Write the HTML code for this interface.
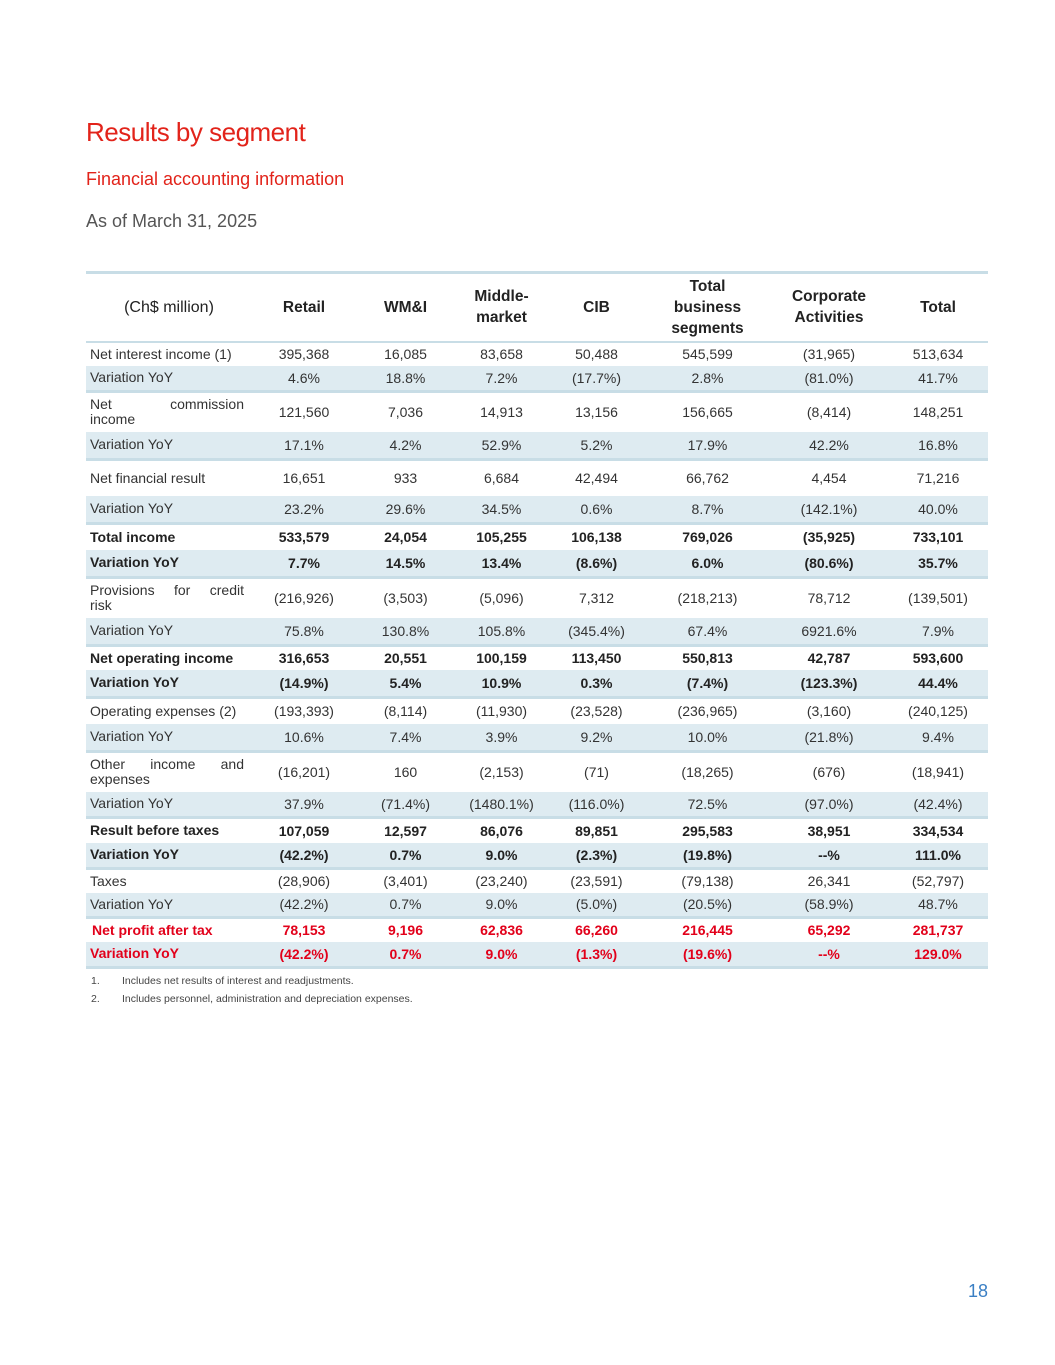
<!DOCTYPE html>
<html><head><meta charset="utf-8"><style>
body{margin:0;width:1055px;height:1365px;background:#fff;font-family:"Liberation Sans",sans-serif;color:#333;position:relative;overflow:hidden}
.t{position:absolute;left:86px;color:#e2231a}
table{position:absolute;left:86px;top:271px;width:902px;border-collapse:collapse;table-layout:fixed;font-size:14px}
td,th{text-align:center;padding:0;vertical-align:middle}
th{font-weight:bold;font-size:15.5px;line-height:21px;color:#222}
th.l{font-weight:normal;font-size:16px}
td.l{text-align:left;padding-left:4px;padding-right:8px;line-height:15px}
td.j div{width:154px}
td.j div.f{text-align:justify;text-align-last:justify}
thead tr{border-top:3px solid #c8dde6;border-bottom:2px solid #c8dde6}
tr.s{background:#deebf1;border-bottom:3px solid #c8dde6}
tr.b td{font-weight:bold;color:#222}
tr.r td{font-weight:bold;color:#e2001a}
.fn{position:absolute;left:91px;font-size:10.5px;color:#444}
.fn span{position:absolute;left:31px;white-space:nowrap}
</style></head><body>
<div class="t" style="top:117px;font-size:26px;letter-spacing:-0.5px">Results by segment</div>
<div class="t" style="top:169px;font-size:18px">Financial accounting information</div>
<div style="position:absolute;left:86px;top:211px;font-size:18px;color:#555">As of March 31, 2025</div>
<table>
<colgroup><col style="width:166px"><col style="width:104px"><col style="width:99px"><col style="width:93px"><col style="width:97px"><col style="width:125px"><col style="width:118px"><col style="width:100px"></colgroup>
<thead><tr style="height:69px"><th class="l">(Ch$ million)</th><th>Retail</th><th>WM&amp;I</th><th>Middle-<br>market</th><th>CIB</th><th>Total<br>business<br>segments</th><th>Corporate<br>Activities</th><th>Total</th></tr></thead>
<tbody>
<tr style="height:24px"><td class="l">Net interest income (1)</td><td>395,368</td><td>16,085</td><td>83,658</td><td>50,488</td><td>545,599</td><td>(31,965)</td><td>513,634</td></tr>
<tr class="s" style="height:26px"><td class="l">Variation YoY</td><td>4.6%</td><td>18.8%</td><td>7.2%</td><td>(17.7%)</td><td>2.8%</td><td>(81.0%)</td><td>41.7%</td></tr>
<tr style="height:40px"><td class="l j"><div class="f">Net commission</div><div>income</div></td><td>121,560</td><td>7,036</td><td>14,913</td><td>13,156</td><td>156,665</td><td>(8,414)</td><td>148,251</td></tr>
<tr class="s" style="height:28px"><td class="l">Variation YoY</td><td>17.1%</td><td>4.2%</td><td>52.9%</td><td>5.2%</td><td>17.9%</td><td>42.2%</td><td>16.8%</td></tr>
<tr style="height:36px"><td class="l">Net financial result</td><td>16,651</td><td>933</td><td>6,684</td><td>42,494</td><td>66,762</td><td>4,454</td><td>71,216</td></tr>
<tr class="s" style="height:28px"><td class="l">Variation YoY</td><td>23.2%</td><td>29.6%</td><td>34.5%</td><td>0.6%</td><td>8.7%</td><td>(142.1%)</td><td>40.0%</td></tr>
<tr class="b" style="height:26px"><td class="l">Total income</td><td>533,579</td><td>24,054</td><td>105,255</td><td>106,138</td><td>769,026</td><td>(35,925)</td><td>733,101</td></tr>
<tr class="s b" style="height:28px"><td class="l">Variation YoY</td><td>7.7%</td><td>14.5%</td><td>13.4%</td><td>(8.6%)</td><td>6.0%</td><td>(80.6%)</td><td>35.7%</td></tr>
<tr style="height:40px"><td class="l j"><div class="f">Provisions for credit</div><div>risk</div></td><td>(216,926)</td><td>(3,503)</td><td>(5,096)</td><td>7,312</td><td>(218,213)</td><td>78,712</td><td>(139,501)</td></tr>
<tr class="s" style="height:28px"><td class="l">Variation YoY</td><td>75.8%</td><td>130.8%</td><td>105.8%</td><td>(345.4%)</td><td>67.4%</td><td>6921.6%</td><td>7.9%</td></tr>
<tr class="b" style="height:24px"><td class="l">Net operating income</td><td>316,653</td><td>20,551</td><td>100,159</td><td>113,450</td><td>550,813</td><td>42,787</td><td>593,600</td></tr>
<tr class="s b" style="height:28px"><td class="l">Variation YoY</td><td>(14.9%)</td><td>5.4%</td><td>10.9%</td><td>0.3%</td><td>(7.4%)</td><td>(123.3%)</td><td>44.4%</td></tr>
<tr style="height:26px"><td class="l">Operating expenses (2)</td><td>(193,393)</td><td>(8,114)</td><td>(11,930)</td><td>(23,528)</td><td>(236,965)</td><td>(3,160)</td><td>(240,125)</td></tr>
<tr class="s" style="height:28px"><td class="l">Variation YoY</td><td>10.6%</td><td>7.4%</td><td>3.9%</td><td>9.2%</td><td>10.0%</td><td>(21.8%)</td><td>9.4%</td></tr>
<tr style="height:40px"><td class="l j"><div class="f">Other income and</div><div>expenses</div></td><td>(16,201)</td><td>160</td><td>(2,153)</td><td>(71)</td><td>(18,265)</td><td>(676)</td><td>(18,941)</td></tr>
<tr class="s" style="height:26px"><td class="l">Variation YoY</td><td>37.9%</td><td>(71.4%)</td><td>(1480.1%)</td><td>(116.0%)</td><td>72.5%</td><td>(97.0%)</td><td>(42.4%)</td></tr>
<tr class="b" style="height:25px"><td class="l">Result before taxes</td><td>107,059</td><td>12,597</td><td>86,076</td><td>89,851</td><td>295,583</td><td>38,951</td><td>334,534</td></tr>
<tr class="s b" style="height:26px"><td class="l">Variation YoY</td><td>(42.2%)</td><td>0.7%</td><td>9.0%</td><td>(2.3%)</td><td>(19.8%)</td><td>--%</td><td>111.0%</td></tr>
<tr style="height:24px"><td class="l">Taxes</td><td>(28,906)</td><td>(3,401)</td><td>(23,240)</td><td>(23,591)</td><td>(79,138)</td><td>26,341</td><td>(52,797)</td></tr>
<tr class="s" style="height:25px"><td class="l">Variation YoY</td><td>(42.2%)</td><td>0.7%</td><td>9.0%</td><td>(5.0%)</td><td>(20.5%)</td><td>(58.9%)</td><td>48.7%</td></tr>
<tr class="r" style="height:24px"><td class="l" style="padding-left:6px">Net profit after tax</td><td>78,153</td><td>9,196</td><td>62,836</td><td>66,260</td><td>216,445</td><td>65,292</td><td>281,737</td></tr>
<tr class="s r" style="height:26px"><td class="l">Variation YoY</td><td>(42.2%)</td><td>0.7%</td><td>9.0%</td><td>(1.3%)</td><td>(19.6%)</td><td>--%</td><td>129.0%</td></tr>
</tbody></table>
<div class="fn" style="top:975px">1.<span>Includes net results of interest and readjustments.</span></div>
<div class="fn" style="top:993px">2.<span>Includes personnel, administration and depreciation expenses.</span></div>
<div style="position:absolute;left:968px;top:1281px;font-size:18px;color:#3a7fc4">18</div>
</body></html>
